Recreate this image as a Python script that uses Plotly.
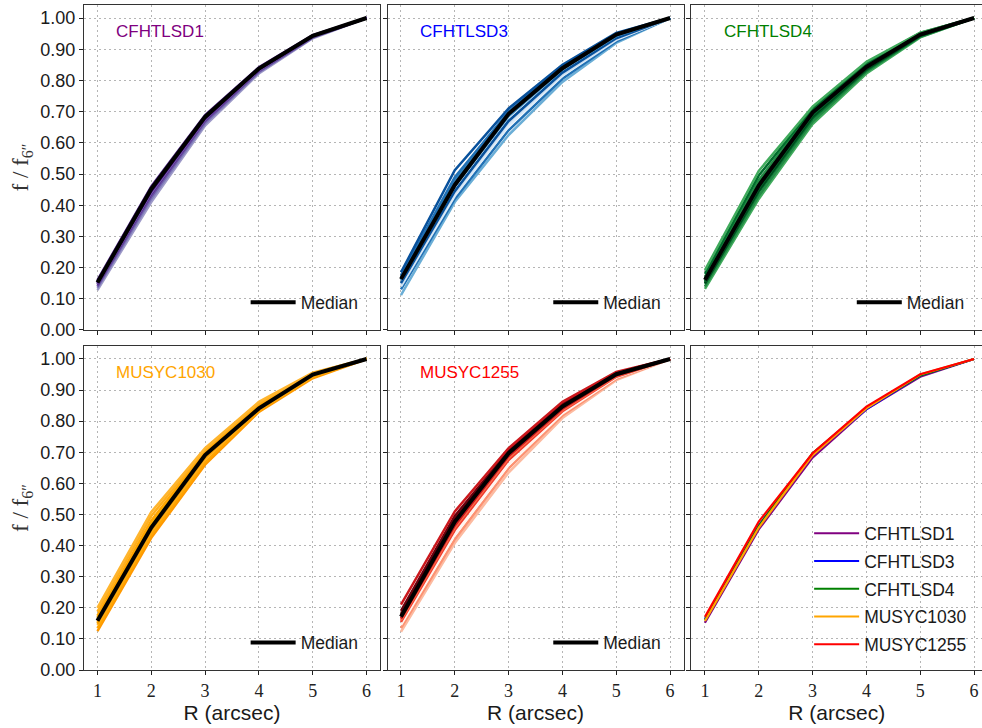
import plotly.graph_objects as go

# ---------------- data ----------------
R = [1, 2, 3, 4, 5, 6]
x_ticks = [1, 2, 3, 4, 5, 6]
y_ticks = [0.0, 0.1, 0.2, 0.3, 0.4, 0.5, 0.6, 0.7, 0.8, 0.9, 1.0]

fields = ["CFHTLSD1", "CFHTLSD3", "CFHTLSD4", "MUSYC1030", "MUSYC1255"]
field_colors = ["#800080", "#0000ff", "#008000", "#ffa500", "#ff0000"]

cfhtlsd1_curves = [
    [0.128, 0.410, 0.655, 0.822, 0.935, 1.0],
    [0.135, 0.420, 0.662, 0.826, 0.937, 1.0],
    [0.140, 0.428, 0.668, 0.829, 0.938, 1.0],
    [0.145, 0.436, 0.673, 0.832, 0.940, 1.0],
    [0.148, 0.440, 0.675, 0.833, 0.940, 1.0],
    [0.150, 0.445, 0.678, 0.835, 0.941, 1.0],
    [0.155, 0.452, 0.684, 0.839, 0.943, 1.0],
    [0.160, 0.460, 0.689, 0.842, 0.945, 1.0],
]
cfhtlsd1_colors = ["#9e9ac8", "#807dba", "#6a51a3", "#54278f", "#7b68b0", "#3f007d", "#6a51a3", "#54278f"]
cfhtlsd1_median = [0.152, 0.452, 0.683, 0.838, 0.943, 1.0]

cfhtlsd3_curves = [
    [0.112, 0.410, 0.625, 0.795, 0.920, 1.0],
    [0.130, 0.420, 0.640, 0.805, 0.925, 1.0],
    [0.140, 0.430, 0.655, 0.815, 0.930, 1.0],
    [0.145, 0.440, 0.665, 0.820, 0.933, 1.0],
    [0.150, 0.445, 0.670, 0.825, 0.935, 1.0],
    [0.160, 0.460, 0.685, 0.835, 0.942, 1.0],
    [0.165, 0.470, 0.695, 0.842, 0.947, 1.0],
    [0.170, 0.480, 0.690, 0.838, 0.944, 1.0],
    [0.175, 0.490, 0.700, 0.845, 0.948, 1.0],
    [0.185, 0.512, 0.710, 0.850, 0.952, 1.0],
]
cfhtlsd3_colors = ["#6baed6", "#2171b5", "#deebf7", "#c6dbef", "#08519c", "#4292c6", "#08306b", "#3182bd", "#2171b5", "#08519c"]
cfhtlsd3_median = [0.163, 0.465, 0.693, 0.839, 0.947, 1.0]

cfhtlsd4_curves = [
    [0.132, 0.420, 0.660, 0.822, 0.938, 1.0],
    [0.140, 0.430, 0.668, 0.828, 0.940, 1.0],
    [0.148, 0.442, 0.678, 0.833, 0.942, 1.0],
    [0.150, 0.448, 0.684, 0.836, 0.944, 1.0],
    [0.155, 0.455, 0.690, 0.840, 0.945, 1.0],
    [0.162, 0.468, 0.698, 0.845, 0.948, 1.0],
    [0.165, 0.473, 0.700, 0.847, 0.949, 1.0],
    [0.170, 0.480, 0.705, 0.850, 0.950, 1.0],
    [0.180, 0.495, 0.710, 0.855, 0.952, 1.0],
    [0.192, 0.510, 0.716, 0.860, 0.953, 1.0],
]
cfhtlsd4_colors = ["#41ab5d", "#238b45", "#006d2c", "#00441b", "#006d2c", "#238b45", "#00441b", "#238b45", "#006d2c", "#41ab5d"]
cfhtlsd4_median = [0.160, 0.463, 0.697, 0.843, 0.947, 1.0]

musyc1030_curves = [
    [0.125, 0.425, 0.660, 0.830, 0.938, 1.0],
    [0.135, 0.435, 0.668, 0.834, 0.942, 1.0],
    [0.145, 0.445, 0.678, 0.838, 0.945, 1.0],
    [0.150, 0.450, 0.684, 0.840, 0.946, 1.0],
    [0.155, 0.455, 0.688, 0.842, 0.948, 1.0],
    [0.165, 0.468, 0.696, 0.846, 0.950, 1.0],
    [0.170, 0.474, 0.700, 0.848, 0.951, 1.0],
    [0.175, 0.480, 0.703, 0.851, 0.952, 1.0],
    [0.188, 0.495, 0.708, 0.857, 0.954, 1.0],
    [0.200, 0.508, 0.713, 0.862, 0.956, 1.0],
]
musyc1030_colors = ["#ff9800", "#ffa500", "#ffae1a", "#f59e00", "#ffa500", "#ff9d00", "#ffb300", "#ffa500", "#ffae1a", "#ffb52e"]
musyc1030_median = [0.158, 0.458, 0.691, 0.841, 0.950, 1.0]

musyc1255_curves = [
    [0.123, 0.408, 0.635, 0.810, 0.932, 1.0],
    [0.135, 0.420, 0.648, 0.818, 0.936, 1.0],
    [0.145, 0.435, 0.660, 0.825, 0.940, 1.0],
    [0.155, 0.450, 0.675, 0.832, 0.943, 1.0],
    [0.160, 0.458, 0.682, 0.836, 0.945, 1.0],
    [0.165, 0.465, 0.688, 0.840, 0.947, 1.0],
    [0.175, 0.480, 0.698, 0.848, 0.951, 1.0],
    [0.180, 0.488, 0.702, 0.852, 0.953, 1.0],
    [0.190, 0.495, 0.705, 0.855, 0.955, 1.0],
    [0.210, 0.510, 0.713, 0.862, 0.958, 1.0],
]
musyc1255_colors = ["#fcbba1", "#fc9272", "#fff5f0", "#ef3b2c", "#fb6a4a", "#cb181d", "#a50f15", "#a50f15", "#67000d", "#cb181d"]
musyc1255_median = [0.171, 0.477, 0.697, 0.847, 0.951, 1.0]

all_curves = [cfhtlsd1_curves, cfhtlsd3_curves, cfhtlsd4_curves, musyc1030_curves, musyc1255_curves]
all_colors = [cfhtlsd1_colors, cfhtlsd3_colors, cfhtlsd4_colors, musyc1030_colors, musyc1255_colors]
all_medians = [cfhtlsd1_median, cfhtlsd3_median, cfhtlsd4_median, musyc1030_median, musyc1255_median]

# ---------------- layout geometry ----------------
col_dom = [[0.0, 0.3296], [0.3380, 0.6676], [0.6765, 1.0]]
row_dom = [[0.5113, 1.0], [0.0, 0.4872]]
x_ranges = [[0.75, 6.25], [0.75, 6.25], [0.75, 6.148]]
y_range = [0.0, 1.0417]

SANS = "Liberation Sans, Arial, sans-serif"
SERIF = "Liberation Serif, Times New Roman, serif"

fig = go.Figure()

def axname(i, kind):
    return kind if i == 1 else f"{kind}{i}"

# panels 1..5 : individual curves + median
for k in range(5):
    p = k + 1
    xa = "x" if p == 1 else f"x{p}"
    ya = "y" if p == 1 else f"y{p}"
    leg = "legend" if p == 1 else f"legend{p}"
    for curve, col in zip(all_curves[k], all_colors[k]):
        fig.add_trace(go.Scatter(x=R, y=curve, mode="lines", xaxis=xa, yaxis=ya,
                                 line=dict(color=col, width=2.5), showlegend=False,
                                 hoverinfo="skip"))
    fig.add_trace(go.Scatter(x=R, y=all_medians[k], mode="lines", xaxis=xa, yaxis=ya,
                             line=dict(color="black", width=4), name="Median",
                             legend=leg, showlegend=True))

# panel 6 : medians of every field
for k in range(5):
    fig.add_trace(go.Scatter(x=R, y=all_medians[k], mode="lines", xaxis="x6", yaxis="y6",
                             line=dict(color=field_colors[k], width=2.2), name=fields[k],
                             legend="legend6", legendgroup=fields[k], showlegend=True))

layout = dict(
    width=982, height=728,
    margin=dict(l=84, r=0, t=5, b=58),
    paper_bgcolor="white", plot_bgcolor="white",
    font=dict(family=SANS, size=17, color="#1a1a1a"),
    annotations=[],
)

for p in range(1, 7):
    r = 0 if p <= 3 else 1
    c = (p - 1) % 3
    xkey = axname(p, "xaxis")
    ykey = axname(p, "yaxis")
    xa = dict(domain=col_dom[c], anchor="y" if p == 1 else f"y{p}", range=x_ranges[c],
              tickmode="array", tickvals=x_ticks, ticktext=[str(v) for v in x_ticks],
              showticklabels=(r == 1), ticks="outside", ticklen=4, tickcolor="#222",
              tickfont=dict(family=SERIF, size=18, color="#222"), ticklabeloverflow="allow",
              showline=True, linecolor="#333", linewidth=1, mirror=True,
              showgrid=True, gridcolor="#b5b5b5", gridwidth=1, griddash="2px,3px",
              zeroline=False, automargin=False, fixedrange=True)
    if r == 1:
        xa["title"] = dict(text="R (arcsec)", font=dict(family=SANS, size=21, color="#1a1a1a"), standoff=4)
    ya = dict(domain=row_dom[r], anchor="x" if p == 1 else f"x{p}", range=y_range,
              tickmode="array", tickvals=y_ticks, tickformat=".2f",
              showticklabels=(c == 0), ticks="outside", ticklen=4, tickcolor="#222",
              tickfont=dict(family=SANS, size=18, color="#1a1a1a"),
              showline=True, linecolor="#333", linewidth=1, mirror=(c != 2),
              showgrid=True, gridcolor="#b5b5b5", gridwidth=1, griddash="2px,3px",
              zeroline=False, automargin=False, fixedrange=True)
    if c == 0:
        ya["title"] = dict(text="f / f<sub>6″</sub>", font=dict(family=SERIF, size=23, color="#333"), standoff=5)
    layout[xkey] = xa
    layout[ykey] = ya

# field labels inside the panels
for k in range(5):
    p = k + 1
    layout["annotations"].append(dict(
        x=1.31, y=0.958, xref="x" if p == 1 else f"x{p}", yref="y" if p == 1 else f"y{p}",
        text=fields[k], showarrow=False, xanchor="left", yanchor="middle",
        font=dict(family=SANS, size=17, color=field_colors[k])))

# legends
leg_pos = {1: (0.180, 0.553), 2: (0.517, 0.553), 3: (0.855, 0.553),
           4: (0.180, 0.041), 5: (0.517, 0.041)}
for p, (lx, ly) in leg_pos.items():
    key = "legend" if p == 1 else f"legend{p}"
    layout[key] = dict(x=lx, y=ly, xanchor="left", yanchor="middle", xref="paper", yref="paper",
                       bgcolor="rgba(0,0,0,0)", borderwidth=0, itemwidth=45,
                       font=dict(family=SANS, size=17.5, color="#1a1a1a"))
layout["legend6"] = dict(x=0.8075, y=0.122, xanchor="left", yanchor="middle", xref="paper", yref="paper",
                         bgcolor="rgba(0,0,0,0)", borderwidth=0, tracegroupgap=2, itemwidth=45,
                         font=dict(family=SANS, size=17.5, color="#1a1a1a"))

fig.update_layout(**layout)
fig.write_html("out.html", config={"displayModeBar": False},
               post_script="document.body.style.margin='0';document.body.style.padding='0';")
